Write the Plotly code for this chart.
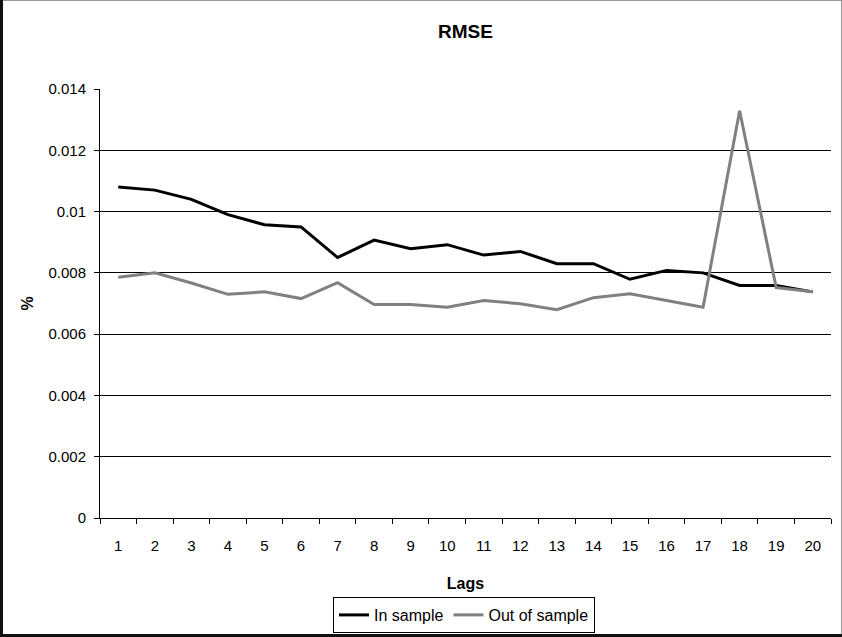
import plotly.graph_objects as go

lags = [str(i) for i in range(1, 21)]
in_sample = [0.01080, 0.01070, 0.01040, 0.00990, 0.00957, 0.00950, 0.00850, 0.00907, 0.00879, 0.00892,
             0.00858, 0.00870, 0.00830, 0.00830, 0.00779, 0.00808, 0.00800, 0.00759, 0.00759, 0.00738]
out_sample = [0.00786, 0.00800, 0.00767, 0.00730, 0.00738, 0.00716, 0.00768, 0.00697, 0.00697, 0.00688,
              0.00710, 0.00699, 0.00680, 0.00719, 0.00732, 0.00710, 0.00688, 0.01329, 0.00752, 0.00738]
y_ticks = [0, 0.002, 0.004, 0.006, 0.008, 0.01, 0.012, 0.014]
y_tick_labels = ["0", "0.002", "0.004", "0.006", "0.008", "0.01", "0.012", "0.014"]

W, H = 842, 637
L, R, T, B = 100, 11, 89, 119
pw, ph = W - L - R, H - T - B

def px_x(p):
    return (p - L) / pw

def px_y(p):
    return (H - B - p) / ph

fig = go.Figure()
fig.add_trace(go.Scatter(x=lags, y=in_sample, mode="lines", name="In sample",
                         line=dict(color="#000000", width=3)))
fig.add_trace(go.Scatter(x=lags, y=out_sample, mode="lines", name="Out of sample",
                         line=dict(color="#808080", width=3)))

font = "Arial, Liberation Sans, sans-serif"
fig.update_layout(
    width=W, height=H,
    margin=dict(l=L, r=R, t=T, b=B, autoexpand=False),
    paper_bgcolor="white", plot_bgcolor="white",
    font=dict(family=font, size=15, color="black"),
    title=dict(text="<b>RMSE</b>", x=0.5, xref="paper", xanchor="center",
               y=1 - 31 / H, yanchor="middle", font=dict(size=19)),
    showlegend=True,
    legend=dict(orientation="h", x=px_x(333), xanchor="left", y=px_y(615), yanchor="middle",
                bordercolor="black", borderwidth=1, bgcolor="white",
                font=dict(size=16), tracegroupgap=0),
    xaxis=dict(type="category", range=[-0.5, 19.5], showline=True, linecolor="black", linewidth=1,
               ticks="outside", tickson="boundaries", ticklen=5, tickcolor="black",
               ticklabelstandoff=14, automargin=False,
               showgrid=False, zeroline=False,
               title=dict(text="<b>Lags</b>", standoff=24, font=dict(size=16))),
    yaxis=dict(range=[0, 0.014], tickvals=y_ticks, ticktext=y_tick_labels,
               showline=True, linecolor="black", linewidth=1,
               ticks="outside", ticklen=5, tickcolor="black",
               ticklabelstandoff=5, automargin=False,
               showgrid=True, gridcolor="black", gridwidth=1, zeroline=False,
               title=dict(text="<b>%</b>", standoff=10, font=dict(size=16))),
    shapes=[
        dict(type="line", xref="paper", yref="paper", x0=px_x(1), x1=px_x(842), y0=px_y(0.5), y1=px_y(0.5),
             line=dict(color="#999999", width=1)),
        dict(type="line", xref="paper", yref="paper", x0=px_x(841.5), x1=px_x(841.5), y0=px_y(0), y1=px_y(637),
             line=dict(color="#999999", width=1)),
        dict(type="line", xref="paper", yref="paper", x0=px_x(1.5), x1=px_x(1.5), y0=px_y(0), y1=px_y(637),
             line=dict(color="#111111", width=3)),
        dict(type="line", xref="paper", yref="paper", x0=px_x(0), x1=px_x(842), y0=px_y(635.5), y1=px_y(635.5),
             line=dict(color="#111111", width=3)),
    ],
)

fig.write_html("out.html", config={"displayModeBar": False},
               post_script="document.body.style.margin='0';")
